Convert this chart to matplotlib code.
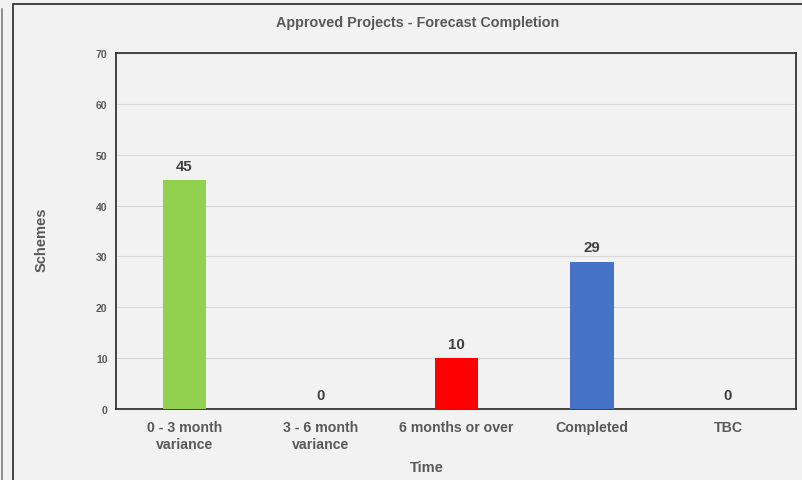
import matplotlib.pyplot as plt
from matplotlib.patches import Rectangle
from matplotlib.lines import Line2D

plt.rcParams['font.family'] = ['Liberation Sans', 'DejaVu Sans']

categories = ['0 - 3 month\nvariance', '3 - 6 month\nvariance', '6 months or over', 'Completed', 'TBC']
values = [45, 0, 10, 29, 0]
colors = ['#92d050', '#92d050', '#ff0000', '#4472c4', '#4472c4']
y_ticks = [0, 10, 20, 30, 40, 50, 60, 70]

W, H = 803, 481
fig = plt.figure(figsize=(W / 100, H / 100), dpi=100)
fig.patch.set_facecolor('#f2f2f2')

# outer frame and the stray line on the far left
fig.add_artist(Rectangle((13 / W, -0.1), 1.0, 1 - 5 / H + 0.1, transform=fig.transFigure,
                         fill=False, edgecolor='#262626', linewidth=1.2))
fig.add_artist(Line2D([2 / W, 2 / W], [0, 1 - 10 / H], transform=fig.transFigure,
                      color='#7f7f7f', linewidth=1.2))

left, right, top, bottom = 116.5, 796, 54, 410
ax = fig.add_axes([left / W, 1 - bottom / H, (right - left) / W, (bottom - top) / H])
ax.set_facecolor('#f2f2f2')

x = range(len(categories))
bars = ax.bar(x, values, width=0.32, color=colors, zorder=3)
ax.set_xlim(-0.5, len(categories) - 0.5)
ax.set_ylim(0, 70)
ax.set_yticks(y_ticks)
ax.set_yticklabels([str(t) for t in y_ticks], fontsize=7.5, fontweight='bold', color='#595959')
ax.set_xticks(list(x))
ax.set_xticklabels(categories, fontsize=10.2, fontweight='bold', color='#595959', linespacing=1.3)
ax.tick_params(axis='both', length=0)
ax.tick_params(axis='y', pad=6.5)
ax.tick_params(axis='x', pad=8)
ax.grid(axis='y', color='#d9d9d9', linewidth=0.8, zorder=0)

for s in ax.spines.values():
    s.set_color('#262626')
    s.set_linewidth(1.2)

for xi, v in zip(x, values):
    ax.text(xi, v + 1.4, str(v), ha='center', va='bottom', fontsize=10.8,
            fontweight='bold', color='#404040')

fig.text(418 / W, 1 - 23 / H, 'Approved Projects - Forecast Completion', ha='center', va='center',
         fontsize=10.4, fontweight='bold', color='#595959')
fig.text(42 / W, 1 - 240 / H, 'Schemes', ha='center', va='center', rotation=90,
         fontsize=10.5, fontweight='bold', color='#595959')
fig.text(427 / W, 1 - 468 / H, 'Time', ha='center', va='center',
         fontsize=10.5, fontweight='bold', color='#595959')

fig.savefig('out.png', dpi=100, facecolor=fig.get_facecolor())
